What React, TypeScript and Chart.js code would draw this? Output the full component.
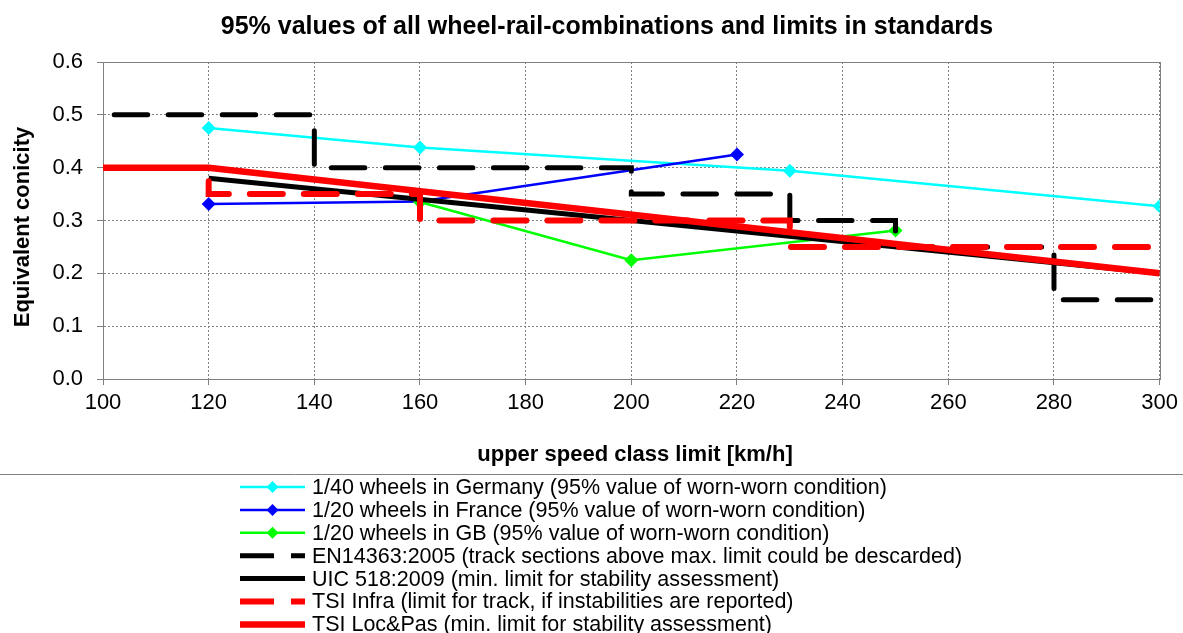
import React, { useEffect, useRef } from "react";
import { Chart, registerables } from "chart.js";

Chart.register(...registerables);

const FONT = "'Liberation Sans', Arial, Helvetica, sans-serif";

const TITLE = "95% values of all wheel-rail-combinations and limits in standards";
const X_TITLE = "upper speed class limit [km/h]";
const Y_TITLE = "Equivalent conicity";

const X_MIN = 100;
const X_MAX = 300;
const X_STEP = 20;
const Y_MIN = 0;
const Y_MAX = 0.6;
const Y_STEP = 0.1;

const germanySpeed = [120, 160, 230, 300];
const germanyValue = [0.475, 0.438, 0.394, 0.327];

const franceSpeed = [120, 160, 220];
const franceValue = [0.331, 0.336, 0.425];

const gbSpeed = [160, 200, 250];
const gbValue = [0.335, 0.225, 0.281];

const enSpeed = [100, 140, 140, 200, 200, 230, 230, 250, 250, 280, 280, 300];
const enValue = [0.5, 0.5, 0.4, 0.4, 0.35, 0.35, 0.3, 0.3, 0.25, 0.25, 0.15, 0.15];

const uicSpeed = [120, 300];
const uicValue = [0.38, 0.2];

const tsiInfraSpeed = [120, 120, 160, 160, 230, 230, 300];
const tsiInfraValue = [0.38, 0.35, 0.35, 0.3, 0.3, 0.25, 0.25];

const tsiLocSpeed = [100, 120, 300];
const tsiLocValue = [0.4, 0.4, 0.2];

const LABELS = [
  "1/40 wheels in Germany (95% value of worn-worn condition)",
  "1/20 wheels in France (95% value of worn-worn condition)",
  "1/20 wheels in GB (95% value of worn-worn condition)",
  "EN14363:2005 (track sections above max. limit could be descarded)",
  "UIC 518:2009 (min. limit for stability assessment)",
  "TSI Infra (limit for track, if instabilities are reported)",
  "TSI Loc&Pas (min. limit for stability assessment)",
];

const COLORS = ["#00FFFF", "#0000FF", "#00FF00", "#000000", "#000000", "#FF0000", "#FF0000"];

const pts = (xs: number[], ys: number[]) => xs.map((x, i) => ({ x, y: ys[i] }));

type Entry = { color: string; width: number; dashed: boolean; marker: boolean };
const LEGEND: Entry[] = [
  { color: COLORS[0], width: 2.5, dashed: false, marker: true },
  { color: COLORS[1], width: 2.5, dashed: false, marker: true },
  { color: COLORS[2], width: 2.5, dashed: false, marker: true },
  { color: COLORS[3], width: 5, dashed: true, marker: false },
  { color: COLORS[4], width: 5, dashed: false, marker: false },
  { color: COLORS[5], width: 6, dashed: true, marker: false },
  { color: COLORS[6], width: 6.5, dashed: false, marker: false },
];

const decorPlugin = {
  id: "decor",
  beforeDatasetsDraw(chart: any) {
    const { ctx, chartArea } = chart;
    ctx.save();
    ctx.strokeStyle = "#808080";
    ctx.lineWidth = 1;
    ctx.strokeRect(
      Math.round(chartArea.left) + 0.5,
      Math.round(chartArea.top) + 0.5,
      Math.round(chartArea.right - chartArea.left),
      Math.round(chartArea.bottom - chartArea.top)
    );
    ctx.restore();
  },
  afterDraw(chart: any) {
    const { ctx, chartArea } = chart;
    ctx.save();
    ctx.fillStyle = "#000";
    ctx.textBaseline = "middle";
    ctx.textAlign = "center";
    ctx.font = `bold 25px ${FONT}`;
    ctx.fillText(TITLE, 607, 27);
    ctx.font = `bold 22px ${FONT}`;
    ctx.fillText(X_TITLE, 635, 455);
    ctx.save();
    ctx.translate(23, 227);
    ctx.rotate(-Math.PI / 2);
    ctx.fillText(Y_TITLE, 0, 0);
    ctx.restore();

    // separator
    ctx.strokeStyle = "#808080";
    ctx.lineWidth = 1;
    ctx.beginPath();
    ctx.moveTo(0, 474.5);
    ctx.lineTo(1183, 474.5);
    ctx.stroke();

    // legend
    const x0 = 240;
    const x1 = 305;
    const tx = 312;
    ctx.textAlign = "left";
    ctx.font = `21.5px ${FONT}`;
    LEGEND.forEach((e, i) => {
      const y = 487 + i * 22.9;
      ctx.strokeStyle = e.color;
      ctx.lineWidth = e.width;
      ctx.lineCap = "butt";
      ctx.beginPath();
      if (e.dashed) {
        ctx.moveTo(x0, y);
        ctx.lineTo(x0 + 34, y);
        ctx.moveTo(x1 - 14, y);
        ctx.lineTo(x1, y);
      } else {
        ctx.moveTo(x0, y);
        ctx.lineTo(x1, y);
      }
      ctx.stroke();
      if (e.marker) {
        const cx = (x0 + x1) / 2;
        const r = 6;
        ctx.fillStyle = e.color;
        ctx.beginPath();
        ctx.moveTo(cx - r, y);
        ctx.lineTo(cx, y - r);
        ctx.lineTo(cx + r, y);
        ctx.lineTo(cx, y + r);
        ctx.closePath();
        ctx.fill();
      }
      ctx.fillStyle = "#000";
      ctx.fillText(LABELS[i], tx, y + 1);
    });
    ctx.restore();
  },
};

export default function App() {
  const ref = useRef<HTMLCanvasElement | null>(null);

  useEffect(() => {
    if (!ref.current) return;
    const thin = (i: number, xs: number[], ys: number[], order: number) => ({
      label: LABELS[i],
      data: pts(xs, ys),
      showLine: true,
      borderColor: COLORS[i],
      backgroundColor: COLORS[i],
      borderWidth: 2.5,
      pointStyle: "rectRot",
      pointRadius: 7,
      pointBorderWidth: 0,
      tension: 0,
      order,
    });
    const thick = (
      i: number,
      xs: number[],
      ys: number[],
      w: number,
      dash: number[],
      dashOffset: number,
      order: number
    ) => ({
      label: LABELS[i],
      data: pts(xs, ys),
      showLine: true,
      borderColor: COLORS[i],
      backgroundColor: COLORS[i],
      borderWidth: w,
      borderDash: dash,
      borderDashOffset: dashOffset,
      borderCapStyle: dash.length ? "round" : "butt",
      borderJoinStyle: "miter",
      pointRadius: 0,
      tension: 0,
      order,
    });

    const chart = new Chart(ref.current, {
      type: "scatter",
      data: {
        datasets: [
          thin(0, germanySpeed, germanyValue, 7),
          thin(1, franceSpeed, franceValue, 6),
          thin(2, gbSpeed, gbValue, 5),
          thick(3, enSpeed, enValue, 5, [33.5, 20.5], 42.8, 4),
          thick(4, uicSpeed, uicValue, 5, [], 0, 3),
          thick(5, tsiInfraSpeed, tsiInfraValue, 6, [33, 21], 51, 2),
          thick(6, tsiLocSpeed, tsiLocValue, 6.5, [], 0, 1),
        ] as any,
      },
      options: {
        animation: false,
        responsive: false,
        maintainAspectRatio: false,
        layout: { padding: { left: 0, right: 18, top: 62, bottom: 214 } },
        plugins: {
          legend: { display: false },
          tooltip: { enabled: false },
          title: { display: false },
        },
        scales: {
          x: {
            type: "linear",
            min: X_MIN,
            max: X_MAX,
            ticks: {
              stepSize: X_STEP,
              font: { family: FONT, size: 22 },
              color: "#000",
              padding: 5,
              maxRotation: 0,
              autoSkip: false,
            },
            grid: {
              color: "#808080",
              lineWidth: 1,
              tickLength: 6,
              tickColor: "#808080",
              tickBorderDash: [],
            },
            border: { display: true, color: "#808080", width: 1, dash: [2, 2] },
            afterFit: (s: any) => {
              s.height = 40;
            },
          },
          y: {
            type: "linear",
            min: Y_MIN,
            max: Y_MAX,
            ticks: {
              stepSize: Y_STEP,
              font: { family: FONT, size: 22 },
              color: "#000",
              padding: 14,
              callback: (v: any) => Number(v).toFixed(1),
            },
            grid: {
              color: "#808080",
              lineWidth: 1,
              tickLength: 6,
              tickColor: "#808080",
              tickBorderDash: [],
            },
            border: { display: true, color: "#808080", width: 1, dash: [2, 2] },
            afterFit: (s: any) => {
              s.width = 103;
            },
          },
        },
      } as any,
      plugins: [decorPlugin],
    });
    return () => chart.destroy();
  }, []);

  return (
    <div style={{ position: "fixed", left: 0, top: 0, width: 1183, height: 633, background: "#fff" }}>
      <canvas ref={ref} width={1183} height={633} style={{ display: "block", width: 1183, height: 633 }} />
    </div>
  );
}
